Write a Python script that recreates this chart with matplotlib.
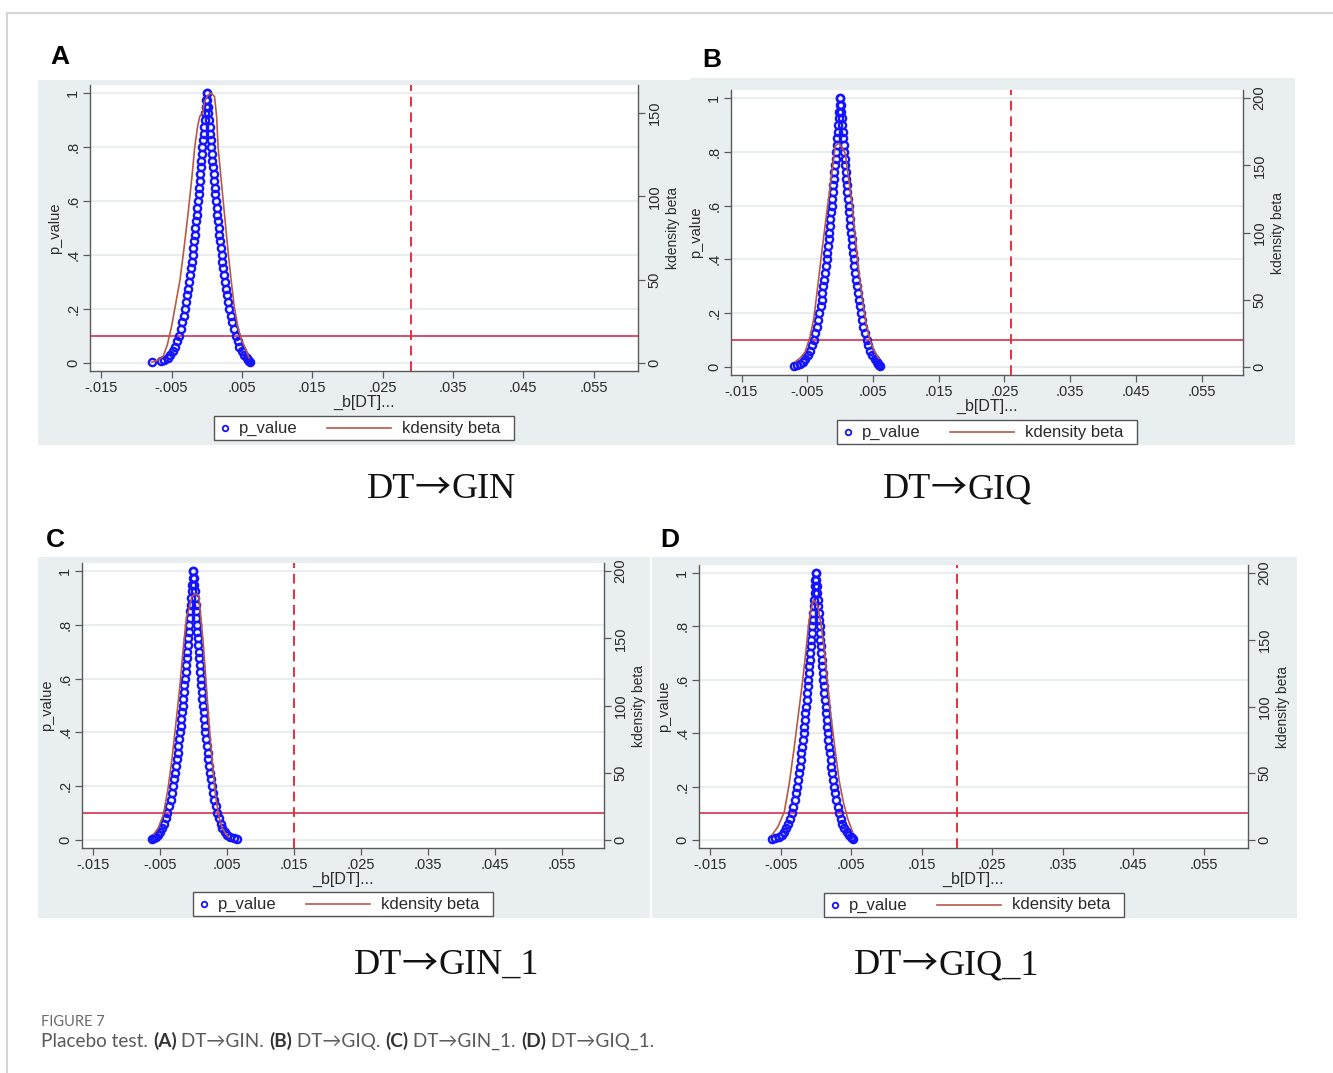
import numpy as np
import matplotlib.pyplot as plt
from matplotlib.patches import Rectangle
from matplotlib.lines import Line2D

# ---- data ----
# p-value levels used to read the two flanks of each scatter
p_levels = [1.0, 0.975, 0.95, 0.925, 0.9, 0.875, 0.85, 0.825, 0.8, 0.775, 0.75, 0.725,
            0.7, 0.675, 0.65, 0.625, 0.6, 0.575, 0.55, 0.525, 0.5, 0.475, 0.45, 0.425,
            0.4, 0.375, 0.35, 0.325, 0.3, 0.275, 0.25, 0.225, 0.2, 0.175, 0.15, 0.125,
            0.1, 0.08, 0.06, 0.045, 0.03, 0.02, 0.012, 0.006, 0.002]

# placebo coefficients (x 1e-3) on left / right flank at each p level
beta_a_left = [0, -0.08, -0.15, -0.23, -0.30, -0.38, -0.45, -0.53, -0.61, -0.69, -0.77, -0.84,
               -0.92, -1.01, -1.09, -1.17, -1.26, -1.35, -1.44, -1.53, -1.62, -1.71, -1.81, -1.91,
               -2.02, -2.13, -2.24, -2.36, -2.49, -2.62, -2.76, -2.91, -3.08, -3.25, -3.46, -3.68,
               -3.95, -4.20, -4.51, -4.81, -5.21, -5.58, -6.03, -6.45, -7.80]
beta_a_right = [0, 0.08, 0.16, 0.24, 0.32, 0.39, 0.47, 0.55, 0.63, 0.72, 0.80, 0.88,
                0.96, 1.05, 1.14, 1.22, 1.31, 1.40, 1.50, 1.59, 1.69, 1.79, 1.89, 1.99,
                2.11, 2.22, 2.34, 2.46, 2.59, 2.73, 2.88, 3.03, 3.21, 3.39, 3.60, 3.84,
                4.11, 4.38, 4.65, 4.95, 5.35, 5.65, 5.85, 6.00, 6.10]
beta_b_left = [0, -0.08, -0.15, -0.23, -0.31, -0.38, -0.46, -0.54, -0.62, -0.70, -0.78, -0.86,
               -0.94, -1.03, -1.11, -1.20, -1.28, -1.37, -1.47, -1.56, -1.65, -1.75, -1.85, -1.95,
               -2.06, -2.17, -2.29, -2.41, -2.54, -2.68, -2.82, -2.97, -3.14, -3.32, -3.53, -3.76,
               -4.03, -4.29, -4.61, -4.91, -5.32, -5.70, -6.15, -6.60, -7.00]
beta_b_right = [0, 0.08, 0.15, 0.23, 0.31, 0.38, 0.46, 0.54, 0.62, 0.70, 0.78, 0.86,
                0.94, 1.03, 1.11, 1.20, 1.28, 1.37, 1.47, 1.56, 1.65, 1.75, 1.85, 1.95,
                2.06, 2.17, 2.29, 2.41, 2.54, 2.68, 2.82, 2.97, 3.14, 3.32, 3.53, 3.76,
                4.03, 4.29, 4.61, 4.91, 5.30, 5.55, 5.75, 5.90, 6.00]
beta_c_left = [0, -0.07, -0.15, -0.22, -0.30, -0.37, -0.44, -0.52, -0.59, -0.67, -0.75, -0.83,
               -0.90, -0.98, -1.07, -1.15, -1.23, -1.32, -1.41, -1.49, -1.58, -1.68, -1.77, -1.87,
               -1.98, -2.08, -2.20, -2.31, -2.43, -2.57, -2.70, -2.85, -3.01, -3.19, -3.38, -3.60,
               -3.87, -4.11, -4.42, -4.65, -4.95, -5.30, -5.60, -5.85, -6.10]
beta_c_right = [0, 0.07, 0.14, 0.20, 0.27, 0.34, 0.41, 0.48, 0.55, 0.62, 0.69, 0.76,
                0.84, 0.91, 0.99, 1.06, 1.14, 1.22, 1.30, 1.38, 1.46, 1.55, 1.64, 1.73,
                1.83, 1.92, 2.03, 2.14, 2.25, 2.37, 2.50, 2.63, 2.78, 2.94, 3.12, 3.33,
                3.57, 3.80, 4.08, 4.35, 4.71, 5.05, 5.45, 6.10, 6.60]
beta_d_left = [0, -0.07, -0.13, -0.20, -0.26, -0.33, -0.40, -0.46, -0.53, -0.60, -0.67, -0.74,
               -0.81, -0.88, -0.95, -1.03, -1.10, -1.18, -1.26, -1.34, -1.42, -1.50, -1.59, -1.67,
               -1.77, -1.86, -1.96, -2.07, -2.18, -2.29, -2.42, -2.55, -2.69, -2.85, -3.02, -3.22,
               -3.45, -3.68, -3.95, -4.21, -4.56, -4.88, -5.28, -5.77, -6.30]
beta_d_right = [0, 0.06, 0.13, 0.19, 0.25, 0.31, 0.38, 0.44, 0.51, 0.57, 0.64, 0.70,
                0.77, 0.84, 0.91, 0.98, 1.05, 1.12, 1.20, 1.27, 1.35, 1.43, 1.51, 1.59,
                1.68, 1.77, 1.87, 1.97, 2.07, 2.18, 2.30, 2.43, 2.56, 2.71, 2.88, 3.07,
                3.29, 3.50, 3.76, 4.01, 4.34, 4.65, 4.90, 5.10, 5.20]

# kernel density of beta (x in 1e-3, density on right axis)
kd_a_x = [-7.8, -7.0, -6.2, -5.6, -5.0, -4.4, -3.8, -3.2, -2.65, -2.1, -1.7, -1.3, -1.0, -0.6,
          -0.3, 0.2, 0.6, 1.1, 1.4, 1.6, 2.0, 2.5, 3.0, 3.45, 3.9, 4.4, 4.9, 5.4, 6.0]
kd_a_y = [0.5, 1.5, 3.9, 11, 22, 36, 50, 70, 90, 112, 130, 142, 148, 150,
          157, 161, 162, 160, 148, 130, 112, 90, 68, 50, 34, 22, 14, 9.7, 3]
kd_b_x = [-6.8, -6.0, -5.3, -4.6, -4.0, -3.4, -2.8, -2.1, -1.5, -1.1, -0.76, -0.4, -0.1,
          0.3, 0.76, 1.3, 1.8, 2.3, 2.8, 3.4, 4.0, 4.6, 5.3, 5.9]
kd_b_y = [3.9, 7, 11.4, 22, 36, 60, 85, 112, 135, 150, 164, 166, 166,
          163, 159, 140, 122, 97, 73, 50, 31, 19, 11, 6.4]
kd_c_x = [-5.9, -5.2, -4.45, -3.8, -3.2, -2.6, -2.0, -1.5, -1.0, -0.6, -0.2, 0.3,
          0.8, 1.15, 1.5, 1.95, 2.4, 2.85, 3.3, 3.8, 4.3, 4.8, 5.3]
kd_c_y = [4.3, 9, 19, 37, 59, 86, 114, 142, 166, 172, 181, 183,
          182, 165, 146, 115, 84, 58, 34, 18, 9, 5, 2]
kd_d_x = [-6.2, -5.4, -4.5, -3.8, -3.1, -2.5, -1.9, -1.4, -1.0, -0.6, -0.36, 0.0,
          0.3, 0.7, 1.15, 1.6, 2.1, 2.7, 3.3, 3.9, 4.5, 5.2]
kd_d_y = [4, 10, 21, 42, 69, 94, 119, 143, 164, 175, 180, 178,
          174, 162, 144, 120, 94, 68, 44, 28, 16, 6]

true_effect = [0.029, 0.026, 0.015, 0.020]   # dashed vertical lines
p_cut = 0.1

title_left = 'DT'
title_right = ['GIN', 'GIQ', 'GIN_1', 'GIQ_1']
letters = ['A', 'B', 'C', 'D']
x_ticks = [-0.015, -0.005, 0.005, 0.015, 0.025, 0.035, 0.045, 0.055]
x_tick_labels = ['-.015', '-.005', '.005', '.015', '.025', '.035', '.045', '.055']
p_ticks = [0, 0.2, 0.4, 0.6, 0.8, 1.0]
p_tick_labels = ['0', '.2', '.4', '.6', '.8', '1']
kd_ticks_a = [0, 50, 100, 150]
kd_ticks_bcd = [0, 50, 100, 150, 200]

# ---- layout (pixels of the 1333 x 1073 canvas) ----
W, H = 1333, 1073
BG = '#e9eff1'
AXC = '#5a5a5a'
GRID = '#e4ebed'
BLUE = '#1414ff'
KD = '#b65a48'
HLINE = '#d8405a'
VLINE = '#e8303a'
TXT = '#2a2a2a'
SANS = ['Liberation Sans', 'DejaVu Sans']
SERIF = ['Liberation Serif', 'DejaVu Serif']
CAP = ['Lato', 'DejaVu Sans']

plt.rcParams['font.family'] = SANS

fig = plt.figure(figsize=(W / 100, H / 100), dpi=100)
renderer = fig.canvas.get_renderer()


def fx(x):
    return x / W


def fy(y):
    return 1 - y / H


def box(x0, y0, x1, y1):
    return [fx(x0), fy(y1), (x1 - x0) / W, (y1 - y0) / H]


def text_run(x, y, parts, center=False):
    # parts: (string, kwargs); laid out left to right on one baseline
    items = []
    for s, kw in parts:
        t = fig.text(0, fy(y), s, va='baseline', ha='left', **kw)
        items.append((t, t.get_window_extent(renderer=renderer).width))
    total = sum(w for _, w in items)
    xpos = x - total / 2 if center else x
    for t, w in items:
        t.set_x(fx(xpos))
        xpos += w


# frame of the figure page
fig.add_artist(Line2D([fx(7), 1], [fy(13), fy(13)], transform=fig.transFigure, color='#d6d6d6', lw=1.5))
fig.add_artist(Line2D([fx(7), fx(7)], [fy(13), 0], transform=fig.transFigure, color='#d6d6d6', lw=1.5))

panels = [
    dict(bg=(38, 80, 690, 445), plot=(90, 85, 638, 371), letter=(50, 57), title=(441, 498), leg_y=428),
    dict(bg=(690, 78, 1295, 445), plot=(731, 90, 1243, 375), letter=(702, 60), title=(957, 498), leg_y=432),
    dict(bg=(38, 557, 650, 918), plot=(82, 563, 604, 848), letter=(46, 540), title=(446, 974), leg_y=904),
    dict(bg=(652, 557, 1297, 918), plot=(699, 565, 1248, 848), letter=(660, 540), title=(946, 974), leg_y=905),
]
betas = [(beta_a_left, beta_a_right), (beta_b_left, beta_b_right),
         (beta_c_left, beta_c_right), (beta_d_left, beta_d_right)]
kds = [(kd_a_x, kd_a_y), (kd_b_x, kd_b_y), (kd_c_x, kd_c_y), (kd_d_x, kd_d_y)]
kd_top = [162, 200, 200, 200]
kd_ticks = [kd_ticks_a, kd_ticks_bcd, kd_ticks_bcd, kd_ticks_bcd]

for i, pn in enumerate(panels):
    x0, y0, x1, y1 = pn['bg']
    fig.add_artist(Rectangle((fx(x0), fy(y1)), (x1 - x0) / W, (y1 - y0) / H,
                             transform=fig.transFigure, facecolor=BG, edgecolor='none', zorder=0))

    ax = fig.add_axes(box(*pn['plot']))
    ax.set_facecolor('white')
    for t in p_ticks:
        ax.axhline(t, color=GRID, lw=1.2, zorder=0)

    bl, br = betas[i]
    bx = np.array(bl + br) / 1000
    by = np.array(p_levels + p_levels)
    ax.plot(bx, by, 'o', ms=5.2, mfc='none', mec=BLUE, mew=1.7, zorder=3)
    ax.axhline(p_cut, color=HLINE, lw=1.3, zorder=2)
    ax.axvline(true_effect[i], color=VLINE, lw=1.4, ls=(0, (5, 3)), zorder=2)

    ax.set_xlim(-0.0166, 0.0613)
    ax.set_ylim(-0.03, 1.03)
    ax.set_xticks(x_ticks)
    ax.set_xticklabels(x_tick_labels)
    ax.set_yticks(p_ticks)
    ax.set_yticklabels(p_tick_labels, rotation=90, va='center')
    ax.tick_params(direction='out', length=5, width=0.9, color=AXC, labelsize=10.5,
                   labelcolor=TXT, pad=2)
    ax.set_xlabel('_b[DT]...', fontsize=11.5, color=TXT, labelpad=0)
    ax.set_ylabel('p_value', fontsize=10.5, color=TXT, labelpad=3)
    for s in ['top', 'right']:
        ax.spines[s].set_visible(False)
    for s in ['left', 'bottom']:
        ax.spines[s].set_color(AXC)
        ax.spines[s].set_linewidth(1.0)

    ax2 = ax.twinx()
    kx, ky = kds[i]
    ax2.plot(np.array(kx) / 1000, ky, color=KD, lw=1.2)
    ax2.set_ylim(-0.03 * kd_top[i], 1.03 * kd_top[i])
    ax2.set_yticks(kd_ticks[i])
    ax2.set_yticklabels([str(t) for t in kd_ticks[i]], rotation=90, va='center')
    ax2.tick_params(direction='out', length=5, width=0.9, color=AXC, labelsize=10.5,
                    labelcolor=TXT, pad=2)
    ax2.set_ylabel('kdensity beta', fontsize=10, color=TXT, labelpad=3)
    for s in ['top', 'left', 'bottom']:
        ax2.spines[s].set_visible(False)
    ax2.spines['right'].set_color(AXC)
    ax2.spines['right'].set_linewidth(1.0)

    # Stata-style legend box under the plot
    px0, _, px1, _ = pn['plot']
    cx = (px0 + px1) / 2
    ly = pn['leg_y']
    lb = cx - 150
    fig.add_artist(Rectangle((fx(lb), fy(ly + 12)), 300 / W, 24 / H, transform=fig.transFigure,
                             facecolor='white', edgecolor='#555555', lw=1.0, zorder=5))
    fig.add_artist(Line2D([fx(lb + 11)], [fy(ly)], transform=fig.transFigure, marker='o', ms=4,
                          mfc='none', mec=BLUE, mew=1.3, ls='none', zorder=6))
    fig.text(fx(lb + 25), fy(ly), 'p_value', fontsize=12, color=TXT, va='center', zorder=6)
    fig.add_artist(Line2D([fx(lb + 113), fx(lb + 177)], [fy(ly), fy(ly)], transform=fig.transFigure,
                          color=KD, lw=1.2, zorder=6))
    fig.text(fx(lb + 188), fy(ly), 'kdensity beta', fontsize=12, color=TXT, va='center', zorder=6)

    lx, lyy = pn['letter']
    fig.text(fx(lx), fy(lyy), letters[i], fontsize=19, fontweight='bold', va='center', ha='left')

    tx, ty = pn['title']
    serif_kw = dict(fontsize=26, family=SERIF, color='#111111')
    text_run(tx, ty, [(title_left, serif_kw),
                      ('\u2192', dict(fontsize=26, family=['Noto Sans CJK JP', 'DejaVu Sans'],
                                      color='#111111')),
                      (title_right[i], serif_kw)], center=True)

# caption
fig.text(fx(41), fy(1022), 'FIGURE 7', fontsize=10.5, color='#6a6a6a', family=CAP, va='center')
norm = dict(fontsize=13.7, family=CAP, color='#5a5a5a')
bold = dict(fontsize=13.7, family=CAP, color='#333333', fontweight='bold')
text_run(41, 1047, [('Placebo test. ', norm), ('(A)', bold), (' DT\u2192GIN. ', norm), ('(B)', bold),
                    (' DT\u2192GIQ. ', norm), ('(C)', bold), (' DT\u2192GIN_1. ', norm), ('(D)', bold),
                    (' DT\u2192GIQ_1.', norm)])

fig.savefig('out.png', dpi=100)
